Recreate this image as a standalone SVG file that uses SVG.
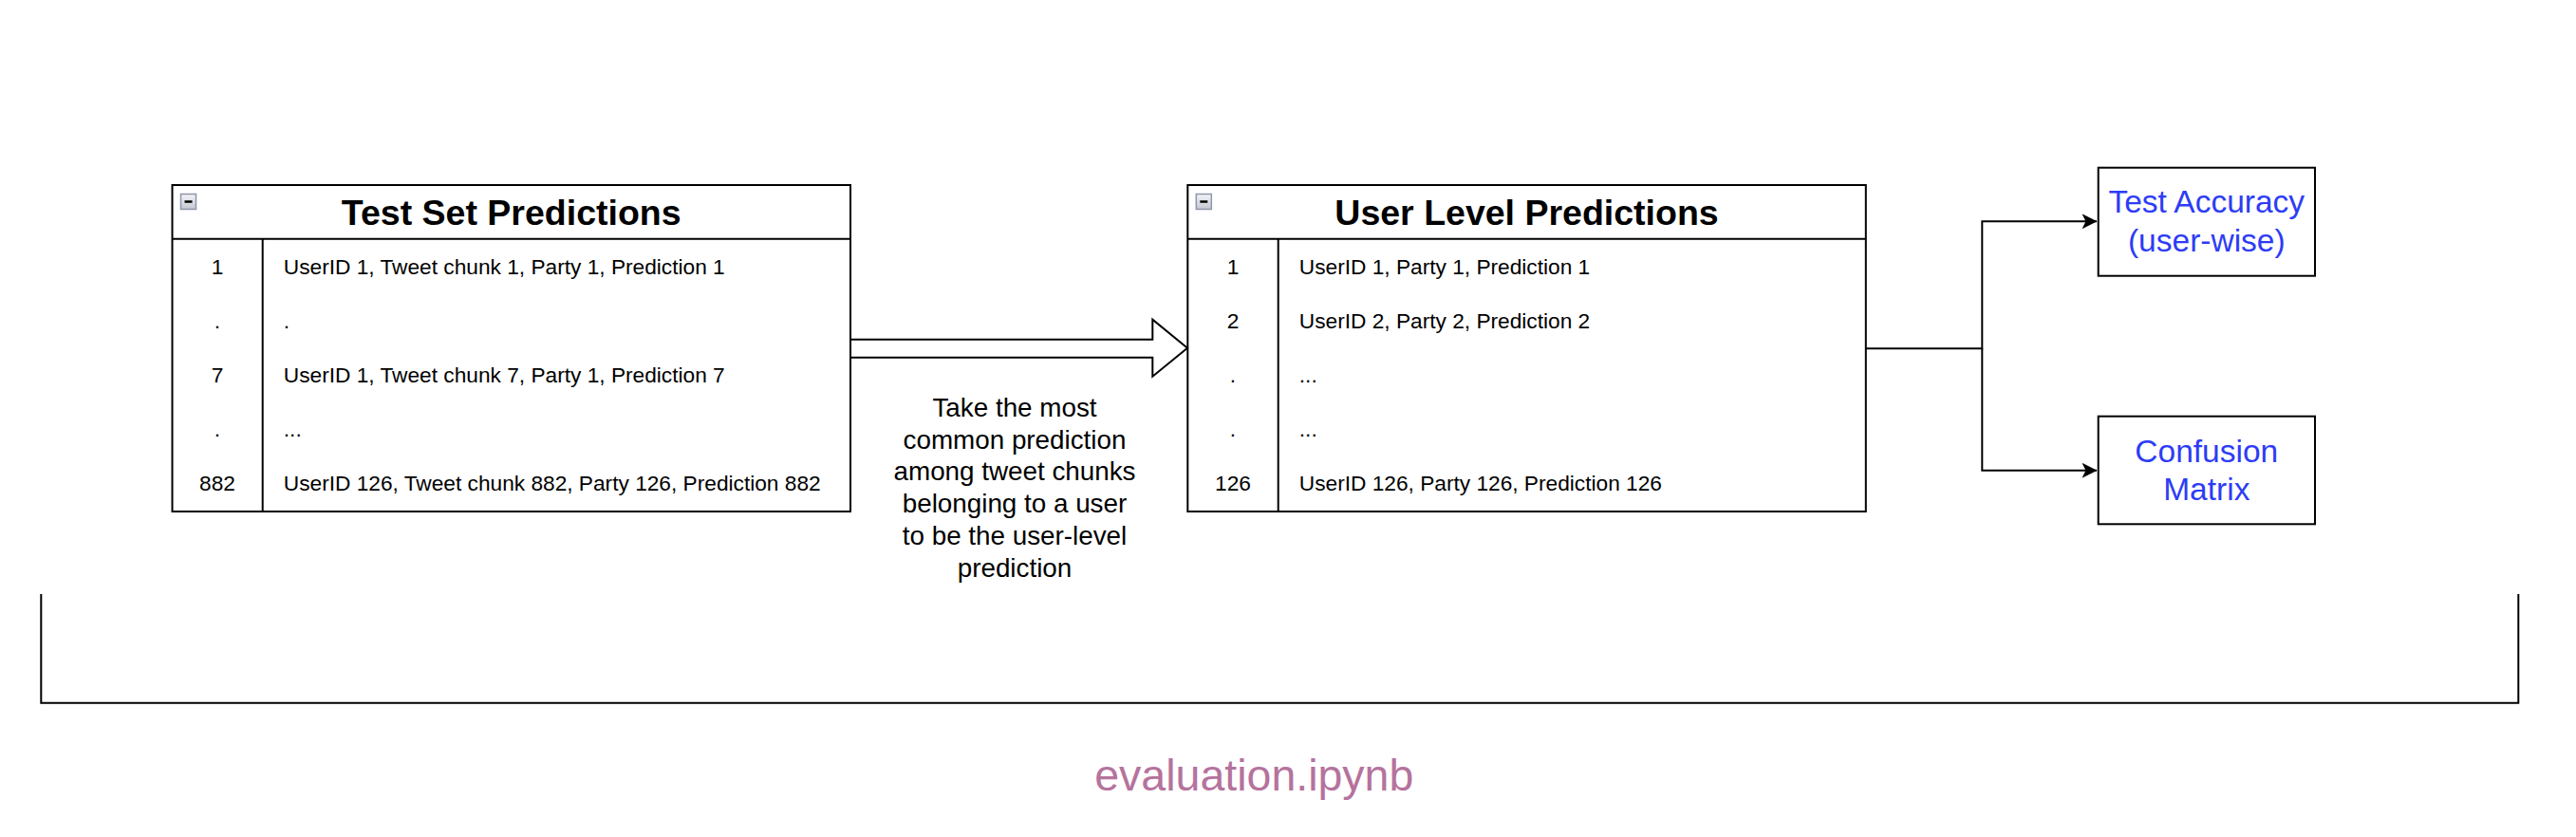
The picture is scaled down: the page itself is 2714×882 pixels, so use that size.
<svg xmlns="http://www.w3.org/2000/svg" width="2714" height="882" viewBox="0 0 2714 882">
<defs>
<linearGradient id="icoGrad" x1="0" y1="0" x2="0" y2="1">
<stop offset="0" stop-color="#f4f5f7"/>
<stop offset="1" stop-color="#c3c7cf"/>
</linearGradient>
<marker id="arrow" viewBox="0 0 16 16" refX="15.5" refY="8" markerWidth="16" markerHeight="16" markerUnits="userSpaceOnUse" orient="auto">
<path d="M0,0 L16,8 L0,16 L4,8 Z" fill="#000"/>
</marker>
</defs>
<style>
.box{fill:#fff;stroke:#000;stroke-width:2}
.ln{fill:none;stroke:#000;stroke-width:2}
.title{font-family:"Liberation Sans",Arial,sans-serif;font-weight:bold;font-size:37.5px;fill:#000;text-anchor:middle}
.row{font-family:"Liberation Sans",Arial,sans-serif;font-size:22.7px;fill:#000}
.num{text-anchor:middle}
.lbl{font-family:"Liberation Sans",Arial,sans-serif;font-size:27.8px;fill:#000;text-anchor:middle}
.blue{font-family:"Liberation Sans",Arial,sans-serif;font-size:33.5px;fill:#2D3CF5;text-anchor:middle}
.ico{fill:url(#icoGrad);stroke:#8f97aa;stroke-width:1.5}
.minus{stroke:#000;stroke-width:2.5}
</style>
<rect width="2714" height="882" fill="#fff"/>

<g id="container">
<path class="ln" d="M43.3,626 V740.7 H2653.3 V626"/>
<text x="1321.3" y="833.3" font-family="'Liberation Sans',Arial,sans-serif" font-size="46.5" fill="#B5739D" text-anchor="middle">evaluation.ipynb</text>
</g>

<g id="test-set-predictions">
<rect class="box" x="181.5" y="195" width="714.5" height="344"/>
<line class="ln" x1="181.5" y1="251.7" x2="896" y2="251.7"/>
<line class="ln" x1="276.7" y1="251.7" x2="276.7" y2="539"/>
<rect class="ico" x="190.5" y="204.5" width="16" height="16"/>
<line class="minus" x1="194.5" y1="212.5" x2="202.5" y2="212.5"/>
<text class="title" x="538.7" y="236.8">Test Set Predictions</text>
<g class="row">
<text class="num" x="229" y="289.3">1</text>
<text x="298.8" y="289.3">UserID 1, Tweet chunk 1, Party 1, Prediction 1</text>
<text class="num" x="229" y="346.3">.</text>
<text x="298.8" y="346.3">.</text>
<text class="num" x="229" y="403.3">7</text>
<text x="298.8" y="403.3">UserID 1, Tweet chunk 7, Party 1, Prediction 7</text>
<text class="num" x="229" y="460.3">.</text>
<text x="298.8" y="460.3">...</text>
<text class="num" x="229" y="517.3">882</text>
<text x="298.8" y="517.3">UserID 126, Tweet chunk 882, Party 126, Prediction 882</text>
</g>
</g>

<g id="user-level-predictions">
<rect class="box" x="1251.3" y="195" width="714.5" height="344"/>
<line class="ln" x1="1251.3" y1="251.7" x2="1965.8" y2="251.7"/>
<line class="ln" x1="1346.7" y1="251.7" x2="1346.7" y2="539"/>
<rect class="ico" x="1260.3" y="204.5" width="16" height="16"/>
<line class="minus" x1="1264.3" y1="212.5" x2="1272.3" y2="212.5"/>
<text class="title" x="1608.5" y="236.8">User Level Predictions</text>
<g class="row">
<text class="num" x="1299" y="289.3">1</text>
<text x="1368.8" y="289.3">UserID 1, Party 1, Prediction 1</text>
<text class="num" x="1299" y="346.3">2</text>
<text x="1368.8" y="346.3">UserID 2, Party 2, Prediction 2</text>
<text class="num" x="1299" y="403.3">.</text>
<text x="1368.8" y="403.3">...</text>
<text class="num" x="1299" y="460.3">.</text>
<text x="1368.8" y="460.3">...</text>
<text class="num" x="1299" y="517.3">126</text>
<text x="1368.8" y="517.3">UserID 126, Party 126, Prediction 126</text>
</g>
</g>

<g id="test-accuracy">
<rect class="box" x="2210.7" y="176.7" width="228.3" height="114"/>
<text class="blue" x="2324.8" y="224.3">Test Accuracy</text>
<text class="blue" x="2324.8" y="264.5">(user-wise)</text>
</g>

<g id="confusion-matrix">
<rect class="box" x="2210.7" y="438.7" width="228.3" height="113.6"/>
<text class="blue" x="2324.8" y="486.7">Confusion</text>
<text class="blue" x="2324.8" y="526.7">Matrix</text>
</g>

<g id="connectors">
<polygon class="box" points="896,357.7 1214.3,357.7 1214.3,336.7 1251,366.7 1214.3,396.7 1214.3,376.7 896,376.7"/>
<g class="lbl">
<text x="1069" y="439">Take the most</text>
<text x="1069" y="472.7">common prediction</text>
<text x="1069" y="506.4">among tweet chunks</text>
<text x="1069" y="540.1">belonging to a user</text>
<text x="1069" y="573.8">to be the user-level</text>
<text x="1069" y="607.5">prediction</text>
</g>
<path class="ln" d="M1966,367.3 H2088.3 V233.3 H2209" marker-end="url(#arrow)"/>
<path class="ln" d="M2088.3,367.3 V495.7 H2209" marker-end="url(#arrow)"/>
</g>
</svg>
